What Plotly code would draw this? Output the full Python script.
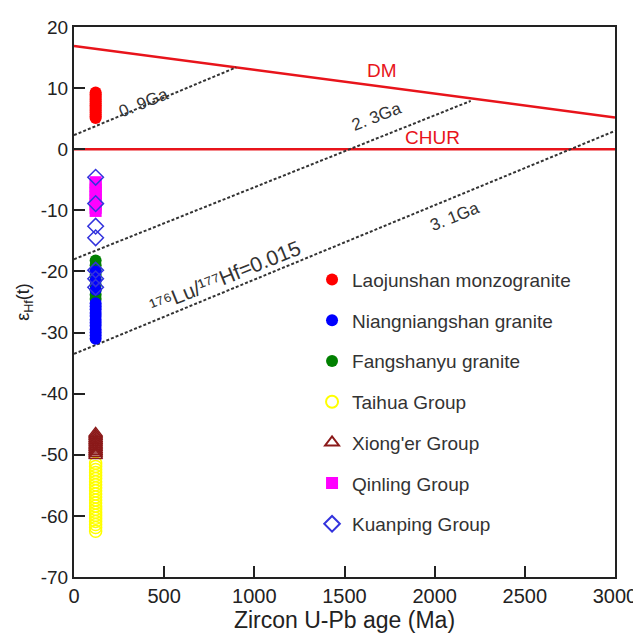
import plotly.graph_objects as go

# ---------------- data ----------------
age_ma = 120  # zircon U-Pb age used for all samples (Ma)

laojunshan = [9.3, 9.0, 8.7, 8.4, 8.1, 7.8, 7.5, 7.2, 6.9, 6.6, 6.3, 6.0, 5.7, 5.4, 5.1]
fangshanyu = [-18.2, -19.0, -19.8, -20.6, -21.4, -22.2, -23.0, -23.8, -24.5]
niangniangshan = [-20.0, -21.5, -23.0, -25.2, -25.7, -26.2, -26.8, -27.3, -27.9, -28.4,
                  -28.9, -29.5, -30.0, -30.5, -31.0]
taihua = [-51.4, -51.9, -52.4, -52.9, -53.4, -53.9, -54.4, -54.9, -55.4, -55.9, -56.4,
          -56.9, -57.4, -57.9, -58.4, -58.9, -59.4, -59.9, -60.4, -60.9, -61.4, -61.9,
          -62.5]
xionger = [-46.5, -46.8, -47.1, -47.4, -47.7, -48.0, -48.3, -48.6, -48.9, -49.2, -49.5,
           -49.8, -50.1]
qinling = [-5.4, -6.0, -6.6, -7.2, -7.8, -8.4, -9.0, -9.6, -10.1]
kuanping = [-4.6, -8.9, -12.6, -14.5, -19.8, -21.2, -22.6]

# reference lines (age Ma, epsilon Hf)
dm_age = [0, 3000]
dm_eps = [16.9, 5.2]
chur_age = [0, 3000]
chur_eps = [0, 0]
line09_age = [0, 900]
line09_eps = [2.3, 13.4]
line23_age = [0, 2200]
line23_eps = [-18.0, 7.9]
line31_age = [0, 3000]
line31_eps = [-33.5, 3.0]

x_ticks = [0, 500, 1000, 1500, 2000, 2500, 3000]
y_ticks = [20, 10, 0, -10, -20, -30, -40, -50, -60, -70]
y_ticktext = ["20", "10", "0", "-10", "-20", "-30", "-40", "-50", "-60", "-70"]

FONT = "Liberation Sans, Arial, sans-serif"
fig = go.Figure()

# reference lines
fig.add_trace(go.Scatter(x=dm_age, y=dm_eps, mode="lines",
                         line=dict(color="#e8141b", width=2.5), showlegend=False, hoverinfo="skip"))
fig.add_trace(go.Scatter(x=chur_age, y=chur_eps, mode="lines",
                         line=dict(color="#e8141b", width=2.5), showlegend=False, hoverinfo="skip"))
for xa, ya in [(line09_age, line09_eps), (line23_age, line23_eps), (line31_age, line31_eps)]:
    fig.add_trace(go.Scatter(x=xa, y=ya, mode="lines",
                             line=dict(color="#333333", width=2, dash="3px,2px"),
                             showlegend=False, hoverinfo="skip"))

def pts(vals, name, symbol, color, rank, filled=True, lw=1.5):
    fig.add_trace(go.Scatter(
        x=[age_ma] * len(vals), y=vals, mode="markers", name=name,
        legendgroup=name, legendrank=rank,
        marker=dict(symbol=symbol, size=12, color=color,
                    line=dict(color=color, width=0 if filled else lw))))

pts(laojunshan, "Laojunshan monzogranite", "circle", "#ff0000", 1)
pts(fangshanyu, "Fangshanyu granite", "circle", "#008000", 3)
pts(niangniangshan, "Niangniangshan granite", "circle", "#0000ff", 2)
pts(taihua, "Taihua Group", "circle-open", "#ffff00", 4, filled=False)
pts(xionger, "Xiong'er Group", "triangle-up-open", "#8b1a1a", 5, filled=False)
pts(qinling, "Qinling Group", "square", "#ff00ff", 6)
pts(kuanping, "Kuanping Group", "diamond-open", "#3333dd", 7, filled=False)

ann_font = dict(family=FONT, size=17, color="#333333")
annotations = [
    dict(x=1710, y=12.9, text="DM", font=dict(family=FONT, size=19, color="#e8141b"), textangle=0),
    dict(x=1990, y=1.9, text="CHUR", font=dict(family=FONT, size=19, color="#e8141b"), textangle=0),
    dict(x=390, y=7.6, text="0. 9Ga", font=ann_font, textangle=-22),
    dict(x=1680, y=5.3, text="2. 3Ga", font=ann_font, textangle=-21),
    dict(x=2113, y=-11.0, text="3. 1Ga", font=ann_font, textangle=-22),
    dict(x=840, y=-20.9, text="¹⁷⁶Lu/¹⁷⁷Hf=0.015",
         font=dict(family=FONT, size=21, color="#333333"), textangle=-22),
]
for a in annotations:
    a.update(xref="x", yref="y", showarrow=False)

# the page adds an 8 px body margin, so the figure is sized to fit the 641x635 window
fig.update_layout(
    width=633, height=627,
    margin=dict(l=66, r=26, t=19, b=58),
    paper_bgcolor="white", plot_bgcolor="white",
    font=dict(family=FONT, color="#222222"),
    annotations=annotations,
    legend=dict(x=0.44, y=0.575, xanchor="left", yanchor="top",
                font=dict(family=FONT, size=19, color="#333333"),
                bgcolor="rgba(0,0,0,0)", traceorder="grouped", tracegroupgap=13,
                itemsizing="constant"),
)
fig.update_xaxes(range=[0, 3000], tickvals=x_ticks, ticks="inside", ticklen=11, tickwidth=2,
                 tickcolor="#222222", showline=True, linecolor="#222222", linewidth=2, mirror=True,
                 showgrid=False, zeroline=False, automargin=False,
                 tickfont=dict(family=FONT, size=20, color="#222222"),
                 title=dict(text="Zircon U-Pb age (Ma)", font=dict(family=FONT, size=23, color="#222222"),
                            standoff=0))
fig.update_yaxes(range=[-70, 20], tickvals=y_ticks, ticktext=y_ticktext, ticks="inside", ticklen=11,
                 tickwidth=2, tickcolor="#222222", showline=True, linecolor="#222222", linewidth=2,
                 mirror=True, showgrid=False, zeroline=False, automargin=False,
                 tickfont=dict(family=FONT, size=19, color="#222222"),
                 title=dict(text="ε<sub>Hf</sub>(t)", font=dict(family=FONT, size=18, color="#222222"),
                            standoff=6))

fig.write_html("out.html")
